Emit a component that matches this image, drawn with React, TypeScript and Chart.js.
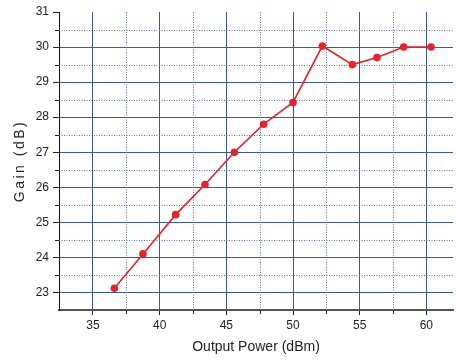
import React, { useEffect, useRef } from 'react';
import { Chart, registerables } from 'chart.js';

Chart.register(...registerables);

const outputPower = [36.6, 38.75, 41.2, 43.4, 45.6, 47.8, 50.0, 52.2, 54.45, 56.3, 58.3, 60.35];
const gain = [23.12, 24.1, 25.22, 26.08, 27.0, 27.8, 28.42, 30.03, 29.5, 29.7, 30.0, 30.0];

const xMajorTicks = [35, 40, 45, 50, 55, 60];
const xMinorTicks = [37.5, 42.5, 47.5, 52.5, 57.5];
const yMajorTicks = [23, 24, 25, 26, 27, 28, 29, 30, 31];
const yMinorTicks = [23.5, 24.5, 25.5, 26.5, 27.5, 28.5, 29.5, 30.5];

const xTitle = 'Output Power (dBm)';
const yTitle = 'Gain (dB)';

const GRID_BLUE = '#3d57a8';
const MINOR_BLUE = '#5a70b8';

const minorGridPlugin = {
  id: 'minorGrid',
  beforeDatasetsDraw(chart: any) {
    const { ctx, chartArea, scales } = chart;
    const xs = scales.x;
    const ys = scales.y;
    ctx.save();
    ctx.strokeStyle = MINOR_BLUE;
    ctx.lineWidth = 1;
    ctx.setLineDash([1, 1.5]);
    xMinorTicks.forEach((v) => {
      const px = Math.round(xs.getPixelForValue(v)) + 0.5;
      if (px < chartArea.left || px > chartArea.right) return;
      ctx.beginPath();
      ctx.moveTo(px, chartArea.top);
      ctx.lineTo(px, chartArea.bottom);
      ctx.stroke();
    });
    yMinorTicks.forEach((v) => {
      const py = Math.round(ys.getPixelForValue(v)) + 0.5;
      ctx.beginPath();
      ctx.moveTo(chartArea.left, py);
      ctx.lineTo(chartArea.right, py);
      ctx.stroke();
    });
    ctx.setLineDash([]);
    ctx.strokeStyle = '#222';
    xMinorTicks.forEach((v) => {
      const px = Math.round(xs.getPixelForValue(v)) + 0.5;
      ctx.beginPath();
      ctx.moveTo(px, chartArea.bottom);
      ctx.lineTo(px, chartArea.bottom + 4);
      ctx.stroke();
    });
    yMinorTicks.forEach((v) => {
      const py = Math.round(ys.getPixelForValue(v)) + 0.5;
      ctx.beginPath();
      ctx.moveTo(chartArea.left - 4, py);
      ctx.lineTo(chartArea.left, py);
      ctx.stroke();
    });
    ctx.restore();
  },
};

const spacedTitlePlugin = {
  id: 'spacedTitle',
  afterLayout(chart: any) {
    const ys = chart.scales.y;
    if (!ys || ys.__patched) return;
    const orig = ys.drawTitle.bind(ys);
    ys.drawTitle = (...args: any[]) => {
      const c = chart.ctx;
      c.save();
      try { (c as any).letterSpacing = '2.5px'; } catch (e) {}
      orig(...args);
      c.restore();
    };
    ys.__patched = true;
  },
};

export default function App() {
  const ref = useRef<HTMLCanvasElement | null>(null);
  useEffect(() => {
    if (!ref.current) return;
    const chart = new Chart(ref.current, {
      type: 'line',
      data: {
        datasets: [
          {
            data: outputPower.map((x, i) => ({ x, y: gain[i] })),
            borderColor: '#e8212b',
            backgroundColor: '#e8212b',
            borderWidth: 1.6,
            pointRadius: 3.8,
            pointBorderWidth: 0,
            pointBackgroundColor: '#e8212b',
            tension: 0,
          },
        ],
      },
      options: {
        animation: false,
        responsive: true,
        maintainAspectRatio: false,
        layout: { padding: { top: 12, right: 0, left: 0, bottom: 0 } },
        plugins: { legend: { display: false }, tooltip: { enabled: false } },
        scales: {
          x: {
            type: 'linear',
            min: 32.45,
            max: 62.0,
            afterBuildTicks: (scale: any) => {
              scale.ticks = xMajorTicks.map((v) => ({ value: v }));
            },
            afterFit: (scale: any) => {
              scale.height = 51;
            },
            grid: {
              color: GRID_BLUE,
              lineWidth: 1,
              tickLength: 5,
              tickColor: '#222',
            },
            border: { color: '#555', width: 2 },
            ticks: {
              color: '#222',
              padding: 3,
              maxRotation: 0,
              font: { family: 'Liberation Sans, Arial, sans-serif', size: 12 },
            },
            title: {
              display: true,
              text: xTitle,
              color: '#222',
              padding: { top: 0, bottom: 5 },
              font: { family: 'Liberation Sans, Arial, sans-serif', size: 14 },
            },
          },
          y: {
            type: 'linear',
            min: 22.5,
            max: 31,
            afterBuildTicks: (scale: any) => {
              scale.ticks = yMajorTicks.map((v) => ({ value: v }));
            },
            afterFit: (scale: any) => {
              scale.width = 59;
            },
            grid: {
              color: (ctx: any) => (ctx.tick && ctx.tick.value === 31 ? 'rgba(0,0,0,0)' : GRID_BLUE),
              lineWidth: 1,
              tickLength: 6,
              tickColor: '#222',
            },
            border: { color: '#111', width: 1 },
            ticks: {
              color: '#222',
              padding: 4,
              font: { family: 'Liberation Sans, Arial, sans-serif', size: 12 },
            },
            title: {
              display: true,
              text: yTitle,
              color: '#222',
              padding: { top: 12, bottom: 0 },
              font: { family: 'Liberation Sans, Arial, sans-serif', size: 14 },
            },
          },
        },
      },
      plugins: [minorGridPlugin, spacedTitlePlugin],
    });
    return () => chart.destroy();
  }, []);
  return (
    <div style={{ position: 'fixed', left: 0, top: 0, width: 457, height: 361, background: '#fff' }}>
      <canvas ref={ref} />
    </div>
  );
}
